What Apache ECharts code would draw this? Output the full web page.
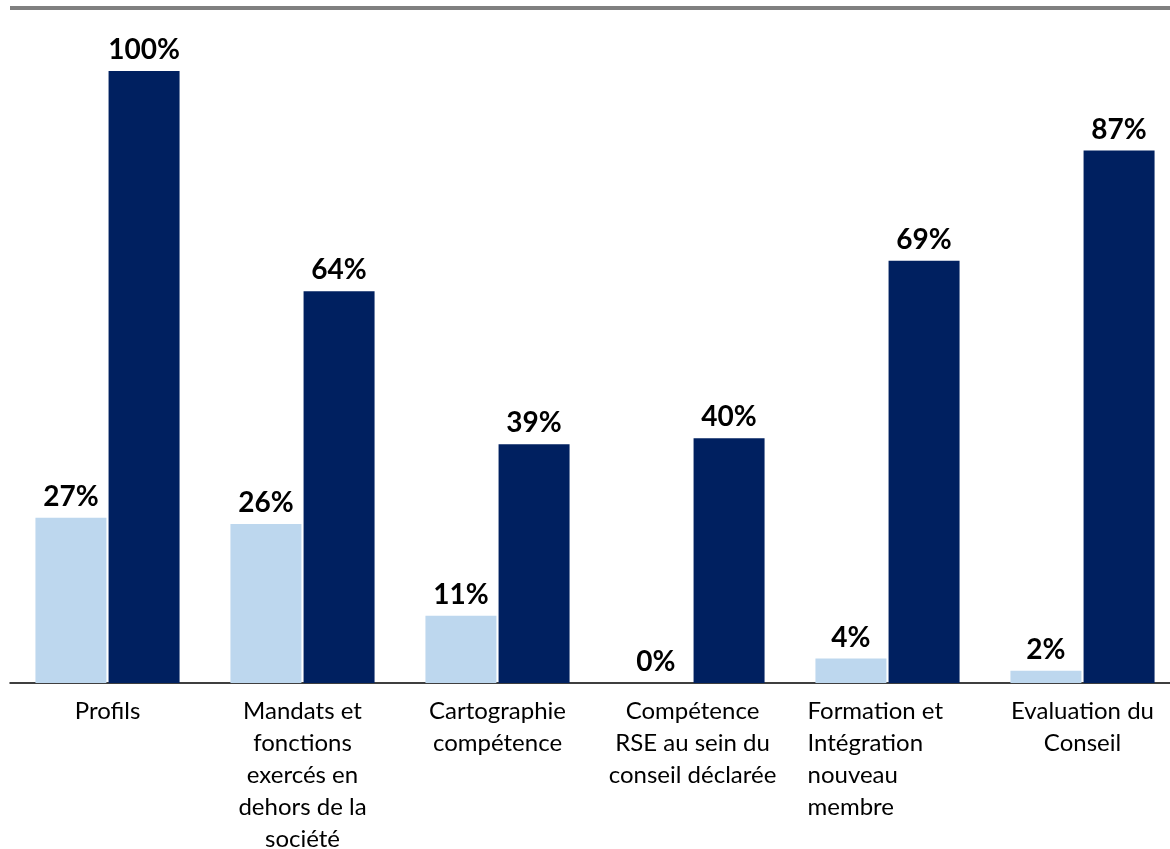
<!DOCTYPE html>
<html>
<head>
<meta charset="utf-8">
<script src="https://cdn.jsdelivr.net/npm/echarts@6/dist/echarts.min.js"></script>
<style>
  html, body { margin: 0; padding: 0; background: #ffffff; }
  #chart { width: 1170px; height: 849px; }
</style>
</head>
<body>
<div id="chart"></div>
<script>
// Categories (line breaks follow the wrapped labels)
const categories = [
  'Profils',
  'Mandats et\nfonctions\nexercés en\ndehors de la\nsociété',
  'Cartographie\ncompétence',
  'Compétence\nRSE au sein du\nconseil déclarée',
  'Formation et\nIntégration\nnouveau\nmembre',
  'Evaluation du\nConseil'
];
// Share of companies, in percent
const seriesLight = [27, 26, 11, 0, 4, 2];
const seriesDark = [100, 64, 39, 40, 69, 87];
// Labels whose lines are flush left rather than centred
const leftAligned = ['Formation et\nIntégration\nnouveau\nmembre'];

const FONT = 'Lato, "Open Sans", sans-serif';

const chart = echarts.init(document.getElementById('chart'), null, { renderer: 'canvas' });

const labelStyle = {
  show: true,
  position: 'top',
  distance: 7,
  formatter: p => p.value + '%',
  fontFamily: FONT,
  fontWeight: 'bold',
  fontSize: 28,
  color: '#000000'
};

chart.setOption({
  animation: false,
  backgroundColor: '#ffffff',
  grid: {
    left: 10, top: 71, width: 1170, height: 612,
    containLabel: false,
    outerBoundsMode: 'none'
  },
  xAxis: {
    type: 'category',
    data: categories,
    axisLine: { show: true, lineStyle: { color: '#000000', width: 1.5 } },
    axisTick: { show: false },
    axisLabel: {
      interval: 0,
      margin: 12,
      hideOverlap: false,
      fontFamily: FONT,
      fontSize: 24,
      lineHeight: 32,
      color: '#000000',
      formatter: v => leftAligned.indexOf(v) >= 0 ? '{l|' + v + '}' : '{c|' + v + '}',
      rich: {
        c: { fontFamily: FONT, fontSize: 24, lineHeight: 32, color: '#000000', align: 'center' },
        l: { fontFamily: FONT, fontSize: 24, lineHeight: 32, color: '#000000', width: 160, align: 'left' }
      }
    }
  },
  yAxis: {
    type: 'value',
    min: 0,
    max: 100,
    interval: 20,
    show: false,
    splitLine: { show: false }
  },
  series: [
    {
      type: 'bar',
      data: seriesLight,
      barWidth: 71,
      barGap: '3%',
      itemStyle: { color: '#BDD7EE' },
      label: labelStyle
    },
    {
      type: 'bar',
      data: seriesDark,
      barWidth: 71,
      barGap: '3%',
      itemStyle: { color: '#002060' },
      label: labelStyle
    }
  ],
  graphic: [
    {
      type: 'rect',
      shape: { x: 10, y: 6, width: 1160, height: 4 },
      style: { fill: '#808080' },
      silent: true
    }
  ]
});
</script>
</body>
</html>
